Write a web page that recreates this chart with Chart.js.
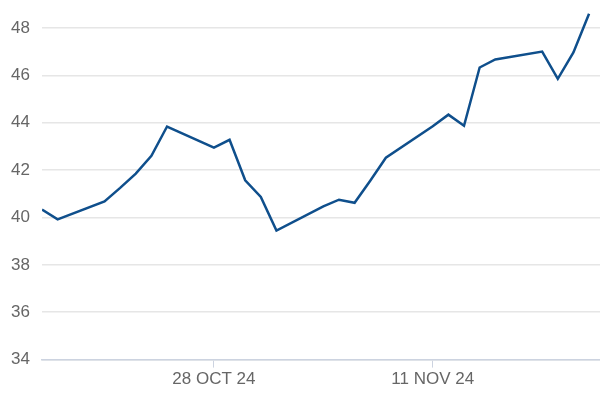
<!DOCTYPE html>
<html>
<head>
<meta charset="utf-8">
<script src="https://cdn.jsdelivr.net/npm/chart.js@4"></script>
<style>
  body { margin: 0; background: #fff; }
  #grafico { display: block; }
</style>
</head>
<body>
<canvas id="grafico" width="600" height="400"></canvas>
<script>
// trading days shown on the chart
let datas = [
    "2024-10-17", "2024-10-18", "2024-10-21", "2024-10-22", "2024-10-23", "2024-10-24", "2024-10-25",
    "2024-10-28", "2024-10-29", "2024-10-30", "2024-10-31", "2024-11-01",
    "2024-11-04", "2024-11-05", "2024-11-06", "2024-11-07", "2024-11-08",
    "2024-11-11", "2024-11-12", "2024-11-13", "2024-11-14", "2024-11-15",
    "2024-11-18", "2024-11-19", "2024-11-20", "2024-11-21"
];
let precos = [
    40.33, 39.92, 40.68, 41.25, 41.85, 42.6, 43.84,
    42.95, 43.28, 41.57, 40.87, 39.45,
    40.47, 40.75, 40.62, 41.55, 42.52,
    43.85, 44.34, 43.87, 46.33, 46.67,
    47.0, 45.85, 46.97, 48.6
];
let datasTicks = ["2024-10-28", "2024-11-11"];
let rotulosTicks = ["28 OCT 24", "11 NOV 24"];
let valoresY = [34, 36, 38, 40, 42, 44, 46, 48];

function diaIndice(texto) {
    let base = Date.UTC(2024, 9, 17);
    let p = texto.split("-");
    return Math.round((Date.UTC(+p[0], +p[1] - 1, +p[2]) - base) / 86400000);
}

window.onload = function () {
    let pontos = datas.map((d, i) => ({ x: diaIndice(d), y: precos[i] }));
    let posTicks = datasTicks.map(diaIndice);
    let fonte = { family: "'Liberation Sans', Arial, sans-serif", size: 17 };

    let ctx = document.getElementById("grafico").getContext("2d");
    new Chart(ctx, {
        type: "line",
        data: {
            datasets: [{
                data: pontos,
                borderColor: "#0f4f8c",
                borderWidth: 2.5,
                pointRadius: 0,
                tension: 0,
                fill: false
            }]
        },
        options: {
            responsive: false,
            animation: false,
            layout: { padding: { top: 9, right: 0, left: 0, bottom: 8 } },
            plugins: { legend: { display: false }, tooltip: { enabled: false } },
            scales: {
                x: {
                    type: "linear",
                    min: 0,
                    max: 35.7,
                    afterBuildTicks: function (escala) {
                        escala.ticks = posTicks.map(v => ({ value: v }));
                    },
                    ticks: {
                        color: "#666666",
                        font: fonte,
                        padding: 2,
                        maxRotation: 0,
                        callback: function (valor) {
                            let i = posTicks.indexOf(valor);
                            return i >= 0 ? rotulosTicks[i] : "";
                        }
                    },
                    grid: {
                        drawOnChartArea: false,
                        drawTicks: true,
                        tickLength: 8,
                        color: "#ccd3e0"
                    },
                    border: { display: true, color: "#ccd3e0", width: 1.5 }
                },
                y: {
                    min: 34,
                    max: 48.8,
                    afterBuildTicks: function (escala) {
                        escala.ticks = valoresY.map(v => ({ value: v }));
                    },
                    afterFit: function (escala) {
                        escala.width = 42;
                        escala.paddingTop = 0;
                        escala.paddingBottom = 0;
                    },
                    ticks: {
                        color: "#666666",
                        font: fonte,
                        padding: 12
                    },
                    grid: {
                        drawTicks: false,
                        color: "#e6e6e6",
                        lineWidth: 1.5
                    },
                    border: { display: false }
                }
            }
        }
    });
};
</script>
</body>
</html>
